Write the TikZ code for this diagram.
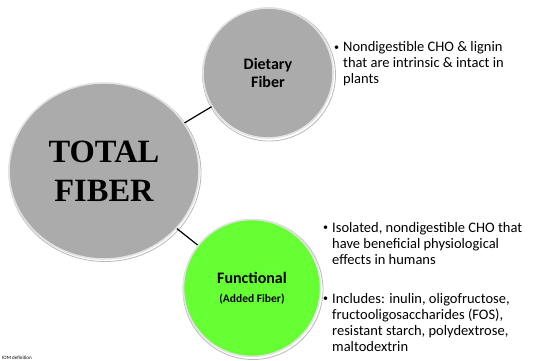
\documentclass[tikz,border=0pt]{standalone}
\usepackage{fontspec}
\setmainfont{Carlito}
\newfontfamily\timesfont{Liberation Serif}
\usetikzlibrary{shapes.geometric}
\definecolor{circgray}{HTML}{ABABAB}
\definecolor{circgreen}{HTML}{66FF33}
\definecolor{rimlight}{HTML}{E2E2E2}
\newcommand{\smallbul}{\raisebox{1.2pt}{\fontsize{10}{10}\selectfont •}}
\tikzset{
  bubble/.style={circle, inner sep=0pt, draw=rimlight, line width=1.6pt,
    font=\bfseries, align=center},
  shadowring/.style={draw=gray!55, line width=0.8pt},
  link/.style={draw=black, line width=1.2pt},
  bullettext/.style={anchor=base west, inner sep=0pt, align=left}
}
\begin{document}
\begin{tikzpicture}[x=1pt,y=-1pt]
\useasboundingbox[fill=white] (0,0) rectangle (536,361);
% shadows / outer rings
\draw[shadowring] (105,172.5) ellipse (96pt and 89pt);
\draw[shadowring] (269,74.5) circle (66.5pt);
\draw[shadowring] (253,289.5) circle (70pt);
% nodes
\node[ellipse, inner sep=0pt, minimum width=190pt, minimum height=176pt,
  fill=circgray, draw=rimlight, line width=1.6pt, align=center,
  font={\timesfont\bfseries\fontsize{32.5}{39}\selectfont}] (total) at (104,171) {TOTAL\\FIBER};
\node[bubble, fill=circgray, minimum size=130pt,
  font={\bfseries\fontsize{16}{18}\selectfont}] (dietary) at (268,73) {Dietary\\Fiber};
\node[bubble, fill=circgreen, minimum size=137pt] (functional) at (252,288)
  {{\fontsize{16}{18}\selectfont Functional}\\[7pt]{\fontsize{11.5}{13}\selectfont (Added Fiber)}};
% connectors
\draw[link] (total) -- (dietary);
\draw[link] (total) -- (functional);
% bullet texts
\node[bullettext] (t1) at (334,52) {\fontsize{14.5}{16}\selectfont
  \begin{tabular}[t]{@{}l@{\hspace{4pt}}l@{}}
  \smallbul & Nondigestible CHO \& lignin\\
    & that are intrinsic \& intact in\\
    & plants
  \end{tabular}};
\node[bullettext] (t2) at (323,232) {\fontsize{14.5}{16}\selectfont
  \begin{tabular}[t]{@{}l@{\hspace{4pt}}l@{}}
  \smallbul & Isolated, nondigestible CHO that\\
    & have beneficial physiological\\
    & effects in humans
  \end{tabular}};
\node[bullettext] (t3) at (323,303) {\fontsize{14.5}{16}\selectfont
  \begin{tabular}[t]{@{}l@{\hspace{4pt}}l@{}}
  \smallbul & Includes: inulin, oligofructose,\\
    & fructooligosaccharides (FOS),\\
    & resistant starch, polydextrose,\\
    & maltodextrin
  \end{tabular}};
\node[anchor=base west, inner sep=0pt, font=\fontsize{5}{6}\selectfont] (iom) at (2,359) {IOM definition};
\end{tikzpicture}
\end{document}
